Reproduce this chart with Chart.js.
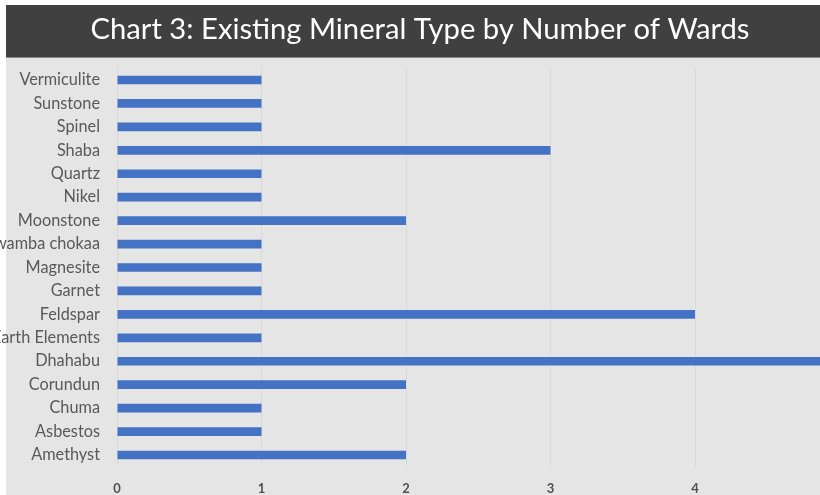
<!DOCTYPE html>
<html>
<head>
<meta charset="utf-8">
<title>Existing Mineral Type by Number of Wards</title>
<script src="https://cdn.jsdelivr.net/npm/chart.js@4.4.1/dist/chart.umd.min.js"></script>
<style>
  html, body { margin: 0; padding: 0; background: #fff; }
  #wrap { width: 820px; height: 495px; position: relative; }
</style>
</head>
<body>
<div id="wrap"><canvas id="mineralChart" width="820" height="495"></canvas></div>
<script>
// minerals, listed top to bottom
const minerals = [
  'Vermiculite', 'Sunstone', 'Spinel', 'Shaba', 'Quartz', 'Nikel', 'Moonstone',
  'Mwamba chokaa', 'Magnesite', 'Garnet', 'Feldspar', 'Rare Earth Elements',
  'Dhahabu', 'Corundun', 'Chuma', 'Asbestos', 'Amethyst'
];
// number of wards for each mineral
const wardCounts = [1, 1, 1, 3, 1, 1, 2, 1, 1, 1, 4, 1, 5, 2, 1, 1, 2];
const xTicks = [0, 1, 2, 3, 4];
const xMax = 4.865;

const chartTitle = 'Chart 3: Existing Mineral Type by Number of Wards';
const labelFont = 'Lato, "Open Sans", sans-serif';

// dark title bar with the heading, plus the grey plot panel behind everything
const panelBackground = {
  id: 'panelBackground',
  beforeDraw(chart) {
    const { ctx, width, height } = chart;
    ctx.save();
    ctx.fillStyle = '#ffffff';
    ctx.fillRect(0, 0, width, height);
    ctx.fillStyle = '#404040';
    ctx.fillRect(6, 5, width - 6, 52);
    ctx.fillStyle = '#8a8a8a';
    ctx.fillRect(6, 57, width - 6, 1);
    ctx.fillStyle = '#e5e5e5';
    ctx.fillRect(6, 58, width - 6, height - 58);

    ctx.fillStyle = '#ffffff';
    ctx.font = '29.2px ' + labelFont;
    ctx.textAlign = 'center';
    ctx.textBaseline = 'middle';
    ctx.fillText(chartTitle, 420, 30);
    ctx.restore();
  }
};

const ctx = document.getElementById('mineralChart').getContext('2d');

new Chart(ctx, {
  type: 'bar',
  data: {
    labels: minerals,
    datasets: [{
      label: 'Number of Wards',
      data: wardCounts,
      backgroundColor: '#4472c4',
      borderWidth: 0,
      categoryPercentage: 1,
      barPercentage: 0.37
    }]
  },
  options: {
    indexAxis: 'y',
    responsive: false,
    animation: false,
    layout: { padding: { left: 0, right: 0, top: 68.3, bottom: 0 } },
    plugins: {
      legend: { display: false },
      tooltip: { enabled: false },
      title: { display: false }
    },
    scales: {
      x: {
        min: 0,
        max: xMax,
        afterBuildTicks: scale => { scale.ticks = xTicks.map(v => ({ value: v })); },
        afterFit: scale => { scale.height = 28.3; },
        grid: { color: '#d9d9d9', lineWidth: 1, drawTicks: false },
        border: { display: false },
        ticks: {
          color: '#505050',
          padding: 14,
          font: { family: labelFont, size: 13, weight: 'bold' }
        }
      },
      y: {
        afterFit: scale => { scale.width = 117; },
        grid: { display: false, drawTicks: false },
        border: { display: false },
        ticks: {
          color: '#595959',
          padding: 17,
          autoSkip: false,
          font: { family: labelFont, size: 16.3 }
        }
      }
    }
  },
  plugins: [panelBackground]
});
</script>
</body>
</html>
